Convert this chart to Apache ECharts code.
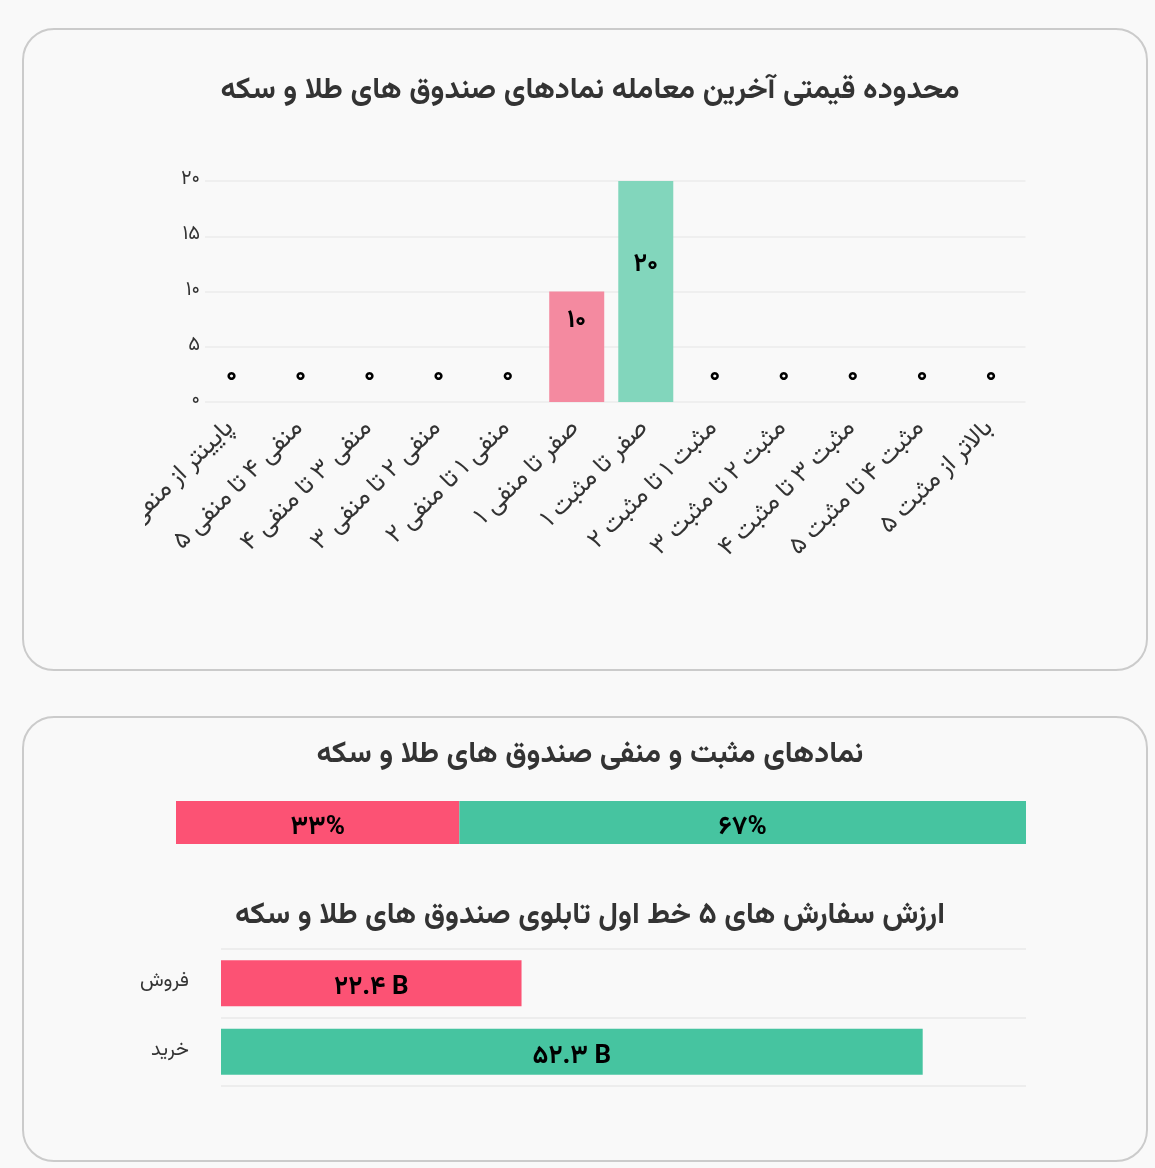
<!DOCTYPE html>
<html lang="fa">
<head>
<meta charset="utf-8">
<script src="https://cdn.jsdelivr.net/npm/echarts@6/dist/echarts.min.js"></script>
<style>
  html, body { margin:0; padding:0; background:#f9f9f9; }
  body { width:1155px; height:1168px; position:relative; overflow:hidden; }
  .card { position:absolute; left:22px; width:1126px; border:2.5px solid #cbcbcb; border-radius:32px; background:#f9f9f9; box-sizing:border-box; }
  #card1 { top:28px; height:643px; }
  #card2 { top:716px; height:446px; }
  #c1 { position:absolute; left:145px; top:30px; width:1000px; height:630px; }
  #c2 { position:absolute; left:0; top:700px; width:1155px; height:460px; }
</style>
</head>
<body>
<div class="card" id="card1"></div>
<div class="card" id="card2"></div>
<div id="c1"></div>
<div id="c2"></div>
<script>
// ---- data ----
const title1 = 'محدوده قیمتی آخرین معامله نمادهای صندوق های طلا و سکه';
const rangeCategories = [
  'پایینتر از منفی ۵',
  'منفی ۴ تا منفی ۵',
  'منفی ۳ تا منفی ۴',
  'منفی ۲ تا منفی ۳',
  'منفی ۱ تا منفی ۲',
  'صفر تا منفی ۱',
  'صفر تا مثبت ۱',
  'مثبت ۱ تا مثبت ۲',
  'مثبت ۲ تا مثبت ۳',
  'مثبت ۳ تا مثبت ۴',
  'مثبت ۴ تا مثبت ۵',
  'بالاتر از مثبت ۵'
];
const rangeCounts = [0, 0, 0, 0, 0, 10, 20, 0, 0, 0, 0, 0];
const yTicks = [0, 5, 10, 15, 20];

const title2 = 'نمادهای مثبت و منفی صندوق های طلا و سکه';
const negativeCount = [10];
const positiveCount = [20];

const title3 = 'ارزش سفارش های ۵ خط اول تابلوی صندوق های طلا و سکه';
const orderCategories = ['فروش', 'خرید'];
const orderValues = [22.4, 52.3];

// ---- helpers ----
const FONT = "Vazirmatn, 'DejaVu Sans', sans-serif";
const PINK = '#fc5274', GREEN = '#46c4a0';
const PINK_L = '#f48aa0', GREEN_L = '#82d6bc';
function fa(v) {
  return String(v).replace(/[0-9]/g, d => '۰۱۲۳۴۵۶۷۸۹'[d]);
}
const totalCount = negativeCount[0] + positiveCount[0];

// ---- chart 1 ----
const c1 = echarts.init(document.getElementById('c1'), null, {renderer:'canvas'});
c1.setOption({
  animation: false,
  textStyle: { fontFamily: FONT },
  title: {
    text: title1, left: 440, top: 43, textAlign: 'center',
    textStyle: { fontSize: 30, fontWeight: 'bold', color: '#333', fontFamily: FONT }
  },
  grid: [
    { left: 52, right: 119.5, top: 151, bottom: 258, containLabel: false, outerBoundsMode: 'none' },
    { left: 60, right: 119.5, top: 151, bottom: 258, containLabel: false, outerBoundsMode: 'none' }
  ],
  xAxis: [
    { gridIndex: 0, type: 'category', data: rangeCategories,
      axisLine: { show: false }, axisTick: { show: false },
      axisLabel: { rotate: 45, interval: 0, margin: 24, fontSize: 25, color: '#333', fontFamily: FONT } },
    { gridIndex: 1, type: 'value', show: false }
  ],
  yAxis: [
    { gridIndex: 0, type: 'value', min: yTicks[0], max: yTicks[yTicks.length - 1], interval: 5, show: false },
    { gridIndex: 1, type: 'value', min: yTicks[0], max: yTicks[yTicks.length - 1], interval: 5,
      axisLabel: { fontSize: 20, color: '#333', margin: 5, fontFamily: FONT, formatter: v => fa(v) },
      splitLine: { lineStyle: { color: '#ebebeb', width: 1.5 } },
      axisLine: { show: false }, axisTick: { show: false } }
  ],
  series: [{
    type: 'bar', barWidth: 55, xAxisIndex: 0, yAxisIndex: 0,
    data: rangeCounts.map((v, i) => ({
      value: v,
      itemStyle: { color: i === 6 ? GREEN_L : PINK_L }
    })),
    label: {
      show: true, position: 'inside', offset: [0, -24],
      fontSize: 25, fontWeight: 'bold', color: '#000', fontFamily: FONT,
      formatter: p => fa(p.value)
    }
  }]
});

// ---- chart 2 ----
const c2 = echarts.init(document.getElementById('c2'), null, {renderer:'canvas'});
const shareLabel = {
  show: true, position: 'inside', offset: [0, 7], fontSize: 26, fontWeight: 'bold', color: '#000', fontFamily: FONT,
  formatter: p => fa(Math.round(p.value / totalCount * 100)) + '%'
};
c2.setOption({
  animation: false,
  textStyle: { fontFamily: FONT },
  title: [
    { text: title2, left: 585, top: 37, textAlign: 'center',
      textStyle: { fontSize: 30, fontWeight: 'bold', color: '#333', fontFamily: FONT } },
    { text: title3, left: 585, top: 198, textAlign: 'center',
      textStyle: { fontSize: 30, fontWeight: 'bold', color: '#333', fontFamily: FONT } }
  ],
  grid: [
    { left: 176, right: 129, top: 101, height: 43, outerBoundsMode: 'none' },
    { left: 221, right: 129, top: 249, height: 137, outerBoundsMode: 'none' }
  ],
  xAxis: [
    { gridIndex: 0, type: 'value', min: 0, max: totalCount, show: false },
    { gridIndex: 1, type: 'value', min: 0, max: 60, show: false }
  ],
  yAxis: [
    { gridIndex: 0, type: 'category', data: [''], show: false },
    { gridIndex: 1, type: 'category', data: orderCategories, inverse: true,
      axisLine: { show: false }, axisTick: { show: false },
      splitLine: { show: true, lineStyle: { color: '#e8e8e8', width: 1.5 } },
      axisLabel: { fontSize: 20, color: '#333', margin: 32, fontFamily: FONT } }
  ],
  series: [
    { type: 'bar', xAxisIndex: 0, yAxisIndex: 0, stack: 's', barWidth: 43,
      data: negativeCount, itemStyle: { color: PINK }, label: shareLabel },
    { type: 'bar', xAxisIndex: 0, yAxisIndex: 0, stack: 's', barWidth: 43,
      data: positiveCount, itemStyle: { color: GREEN }, label: shareLabel },
    { type: 'bar', xAxisIndex: 1, yAxisIndex: 1, barWidth: 46,
      data: orderValues.map((v, i) => ({ value: v, itemStyle: { color: i === 0 ? PINK : GREEN } })),
      label: { show: true, position: 'inside', offset: [0, 7], fontSize: 26, fontWeight: 'bold', color: '#000', fontFamily: FONT,
        formatter: p => fa(p.value) + ' B' } }
  ]
});
</script>
</body>
</html>
